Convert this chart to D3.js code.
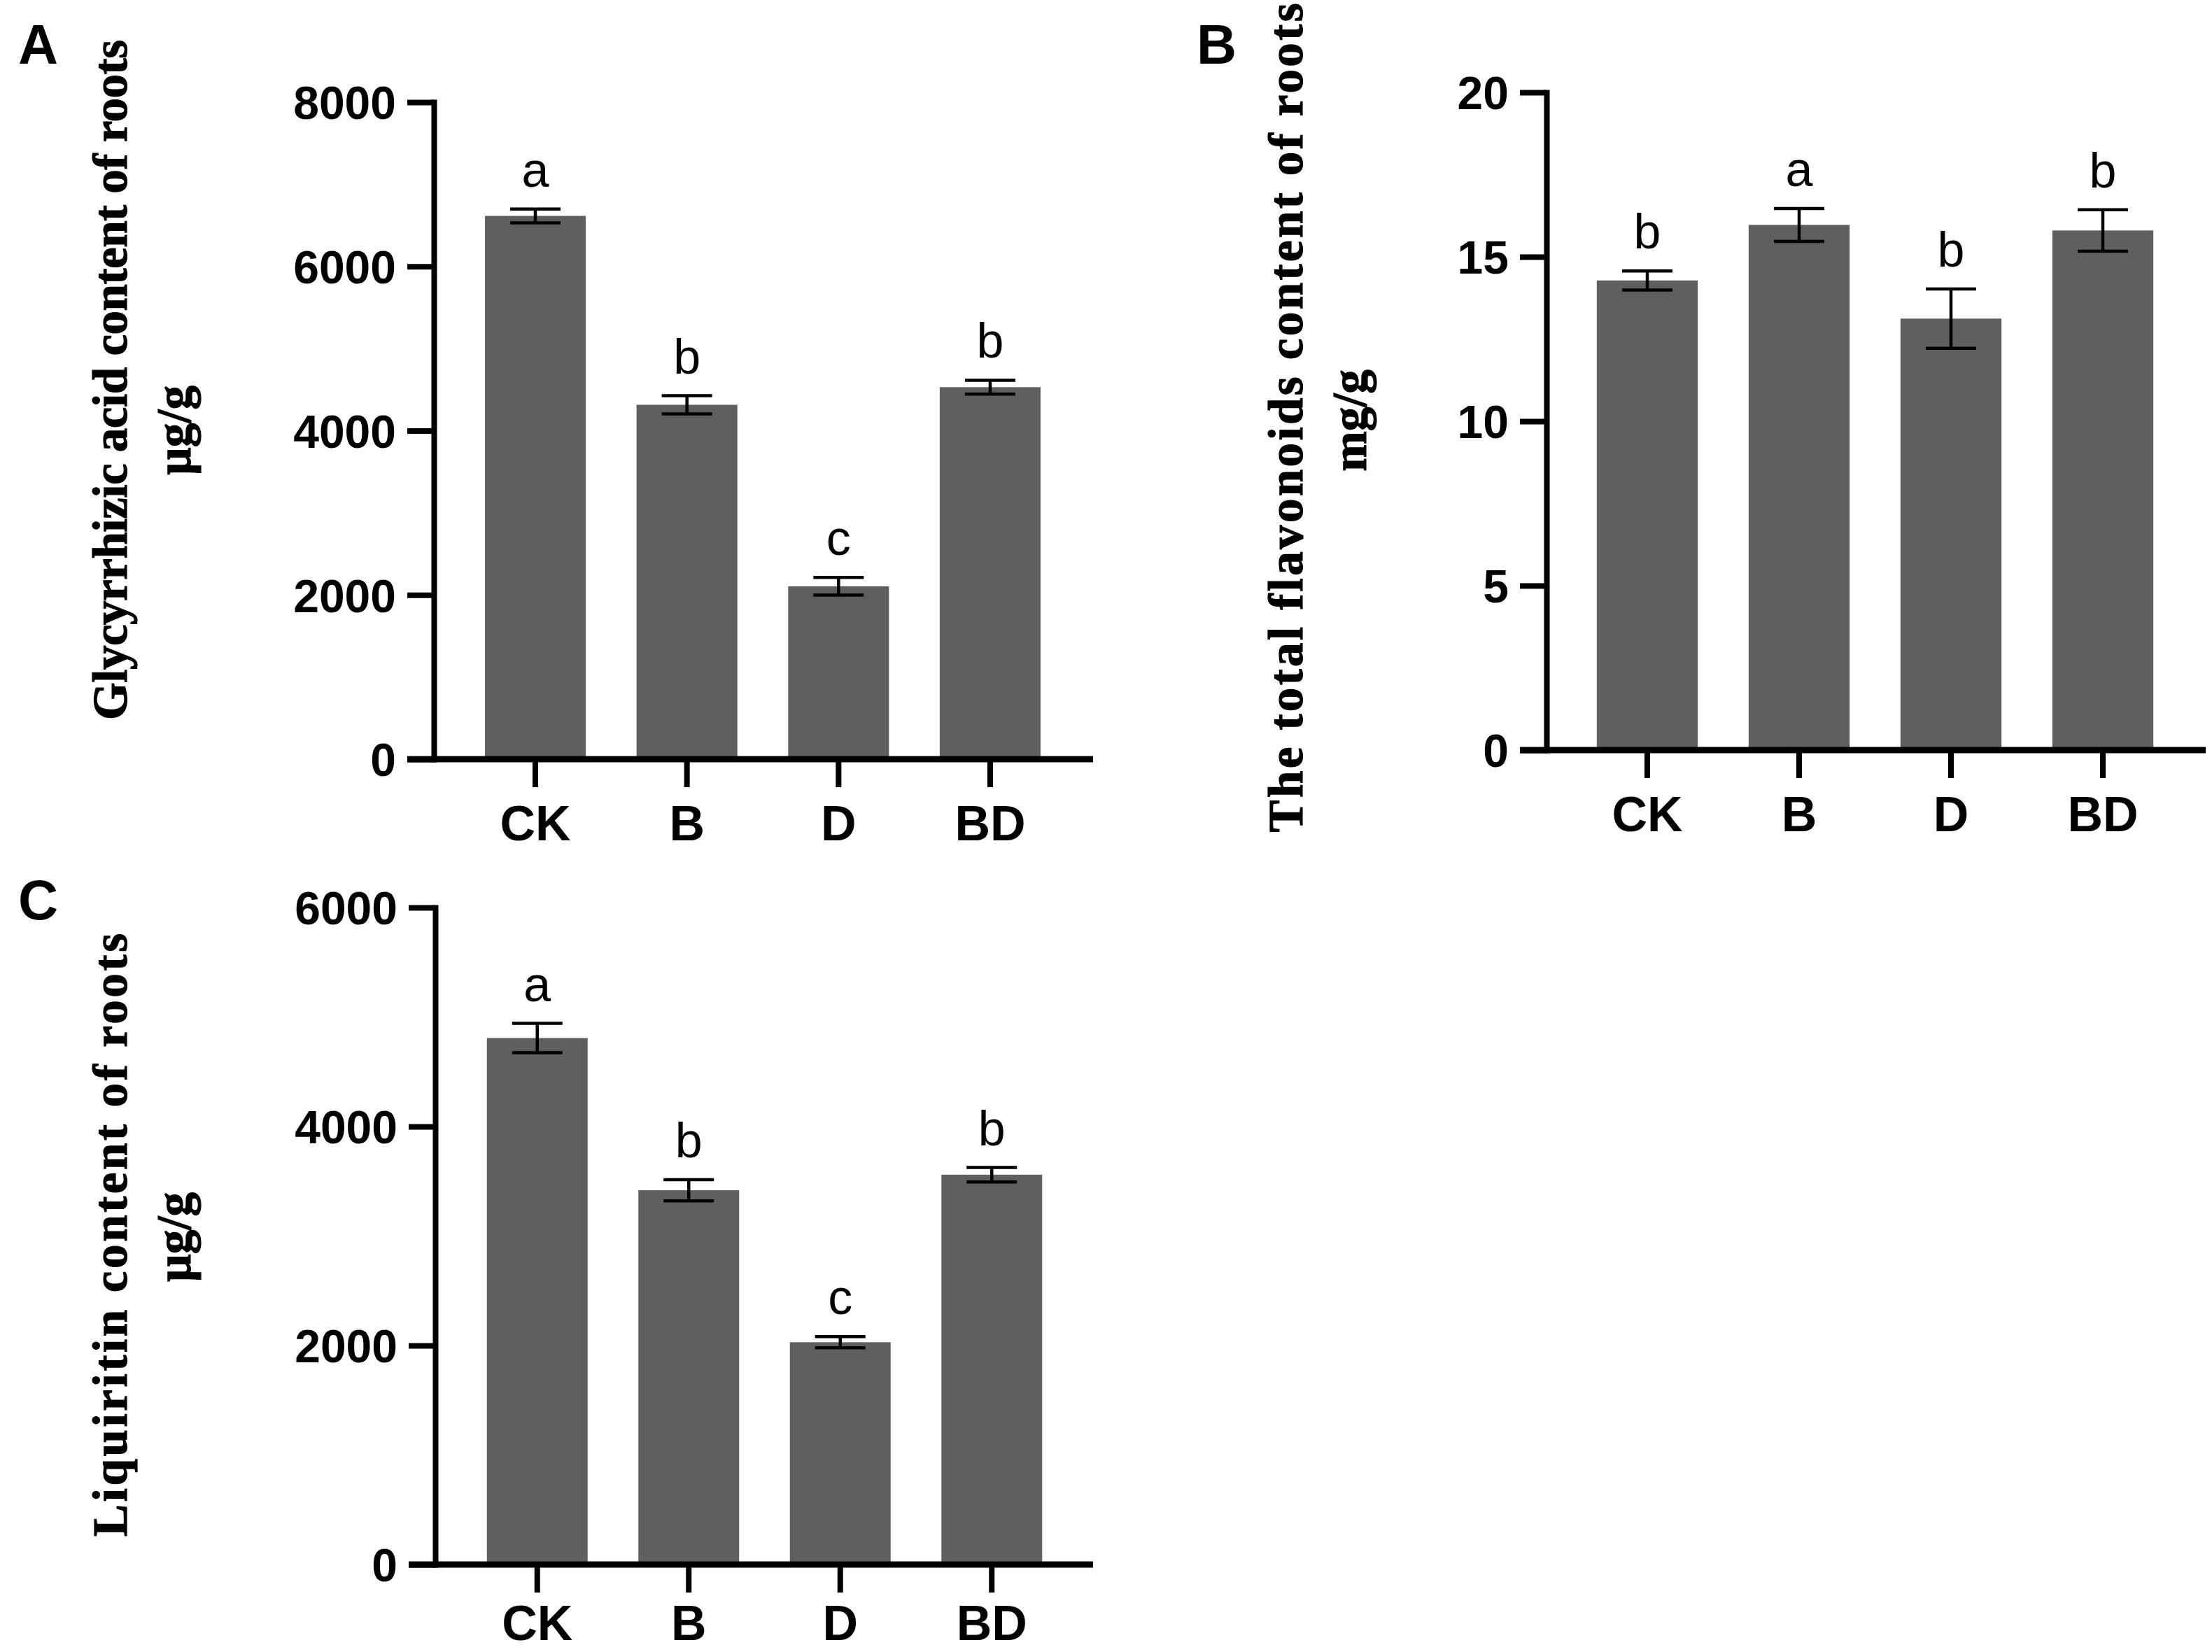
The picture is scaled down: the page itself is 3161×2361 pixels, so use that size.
<!DOCTYPE html>
<html>
<head>
<meta charset="utf-8">
<script src="https://cdn.jsdelivr.net/npm/d3@7"></script>
<style>
  body { margin: 0; background: #fff; }
  svg { display: block; }
</style>
</head>
<body>
<svg id="fig" width="3161" height="2361"></svg>
<script>
// data
const categories = ["CK", "B", "D", "BD"];

const glyValues = [6615, 4315, 2105, 4530];
const glyErrors = [84, 110, 108, 84];
const glyLetters = ["a", "b", "c", "b"];
const glyTicks = [0, 2000, 4000, 6000, 8000];

const flaValues = [14.28, 15.97, 13.12, 15.8];
const flaErrors = [0.29, 0.5, 0.9, 0.63];
const flaLetters = ["b", "a", "b", "b"];
const flaTicks = [0, 5, 10, 15, 20];

const liqValues = [4808, 3418, 2030, 3560];
const liqErrors = [134, 97, 51, 66];
const liqLetters = ["a", "b", "c", "b"];
const liqTicks = [0, 2000, 4000, 6000];

const SANS = "'Liberation Sans', Arial, Helvetica, sans-serif";
const SERIF = "'Liberation Serif', 'Times New Roman', Times, serif";
const BAR = "#5f5f5f";

const svg = d3.select("#fig");
svg.append("rect").attr("width", 3161).attr("height", 2361).attr("fill", "#fff");

function drawPanel(p, values, errors, letters, ticks) {
  const g = svg.append("g");

  const y = d3.scaleLinear().domain([0, ticks[ticks.length - 1]]).range([p.y0, p.y1]);
  const x = d3.scaleBand().domain(categories)
      .range([p.c0, p.c1])
      .paddingInner(0.335)
      .paddingOuter(0.1675);

  // bars
  g.selectAll(".bar")
    .data(values)
    .enter().append("rect")
      .attr("x", (d, i) => x(categories[i]))
      .attr("y", d => y(d))
      .attr("width", x.bandwidth())
      .attr("height", d => y(0) - y(d))
      .attr("fill", BAR);

  // error bars
  const err = g.selectAll(".err")
    .data(values)
    .enter().append("g")
      .attr("transform", (d, i) => "translate(" + (x(categories[i]) + x.bandwidth() / 2) + ",0)");
  err.append("line")
      .attr("y1", (d, i) => y(d - errors[i]))
      .attr("y2", (d, i) => y(d + errors[i]));
  err.append("line")
      .attr("x1", -36).attr("x2", 36)
      .attr("y1", (d, i) => y(d + errors[i]))
      .attr("y2", (d, i) => y(d + errors[i]));
  err.append("line")
      .attr("x1", -36).attr("x2", 36)
      .attr("y1", (d, i) => y(d - errors[i]))
      .attr("y2", (d, i) => y(d - errors[i]));
  err.selectAll("line").attr("stroke", "#000").attr("stroke-width", 4.5);

  // significance letters
  g.selectAll(".sig")
    .data(values)
    .enter().append("text")
      .attr("x", (d, i) => x(categories[i]) + x.bandwidth() / 2)
      .attr("y", (d, i) => y(d + errors[i]) - 32)
      .attr("text-anchor", "middle")
      .attr("font-family", SANS)
      .attr("font-size", 70)
      .text((d, i) => letters[i]);

  // y axis
  const yAxis = g.append("g")
      .attr("transform", "translate(" + p.ax + ",0)")
      .call(d3.axisLeft(y).tickValues(ticks).tickFormat(d3.format("d"))
        .tickSize(38).tickSizeOuter(0).tickPadding(16));
  yAxis.select(".domain").attr("stroke-width", 8).attr("stroke-linecap", "square");
  yAxis.selectAll(".tick line").attr("stroke-width", 8);
  yAxis.selectAll(".tick text")
      .attr("font-family", SANS)
      .attr("font-weight", "bold")
      .attr("font-size", 66)
      .attr("dy", "0.36em")
      .attr("fill", "#000");

  // x axis
  g.append("line")
      .attr("x1", p.ax - 38).attr("x2", p.xEnd)
      .attr("y1", y(0)).attr("y2", y(0))
      .attr("stroke", "#000").attr("stroke-width", 9);
  const xAxis = g.append("g")
      .attr("transform", "translate(0," + y(0) + ")")
      .call(d3.axisBottom(x).tickSize(40).tickPadding(p.xPad));
  xAxis.select(".domain").remove();
  xAxis.selectAll(".tick line").attr("stroke-width", 8);
  xAxis.selectAll(".tick text")
      .attr("font-family", SANS)
      .attr("font-weight", "bold")
      .attr("font-size", 70)
      .attr("dy", "0.71em")
      .attr("fill", "#000");

  // y titles
  g.append("text")
      .attr("transform", "translate(" + p.t1x + "," + p.t1y + ") rotate(-90)")
      .attr("text-anchor", "middle")
      .attr("font-family", SERIF)
      .attr("font-weight", "bold")
      .attr("font-size", 69)
      .attr("stroke", "#000")
      .attr("stroke-width", 1.2)
      .attr("textLength", p.t1len)
      .attr("lengthAdjust", "spacing")
      .text(p.title);
  g.append("text")
      .attr("transform", "translate(" + p.t2x + "," + p.t2y + ") rotate(-90)")
      .attr("text-anchor", "middle")
      .attr("font-family", SERIF)
      .attr("font-weight", "bold")
      .attr("font-size", 69)
      .attr("stroke", "#000")
      .attr("stroke-width", 1.2)
      .text(p.unit);

  // panel letter
  g.append("text")
      .attr("x", p.lx).attr("y", p.ly)
      .attr("font-family", SANS)
      .attr("font-weight", "bold")
      .attr("font-size", 79)
      .text(p.label);
}

drawPanel({
  label: "A", lx: 26, ly: 91,
  ax: 620, y0: 1085, y1: 146, c0: 656.7, c1: 1523.3, xEnd: 1562, xPad: 26,
  title: "Glycyrrhizic acid content of roots", unit: "\u00b5g/g",
  t1x: 181, t1y: 543, t1len: 972, t2x: 272, t2y: 615
}, glyValues, glyErrors, glyLetters, glyTicks);

drawPanel({
  label: "B", lx: 1710, ly: 91,
  ax: 2210, y0: 1072, y1: 132, c0: 2245.5, c1: 3113.5, xEnd: 3152, xPad: 26,
  title: "The total flavonoids content of roots", unit: "mg/g",
  t1x: 1861, t1y: 597, t1len: 1185, t2x: 1952, t2y: 601
}, flaValues, flaErrors, flaLetters, flaTicks);

drawPanel({
  label: "C", lx: 26, ly: 1314,
  ax: 622, y0: 2236, y1: 1297, c0: 659.5, c1: 1525.5, xEnd: 1562, xPad: 18,
  title: "Liquiritin content of roots", unit: "\u00b5g/g",
  t1x: 181, t1y: 1765, t1len: 862, t2x: 272, t2y: 1768
}, liqValues, liqErrors, liqLetters, liqTicks);
</script>
</body>
</html>
